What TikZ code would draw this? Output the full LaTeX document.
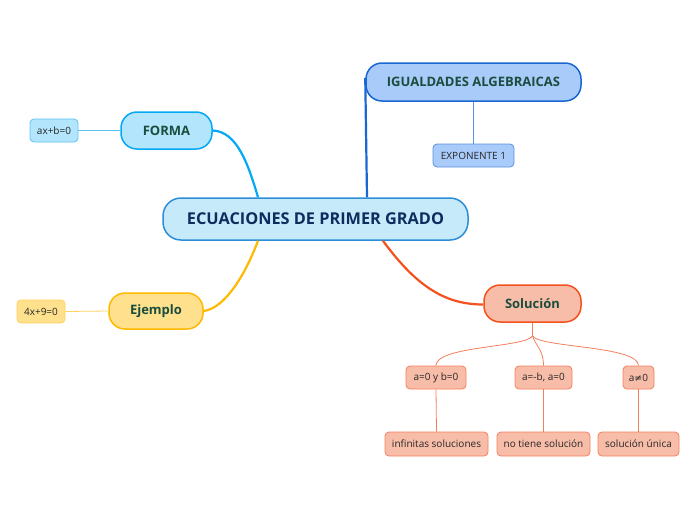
\documentclass[tikz,border=0pt]{standalone}
\usepackage{fontspec}
\setmainfont{Open Sans}
\newfontfamily\symfont{DejaVu Sans}
\usetikzlibrary{calc}
\definecolor{cfill}{HTML}{C7EAFB}
\definecolor{cdraw}{HTML}{2C8ED6}
\definecolor{ctext}{HTML}{0D2D5E}
\definecolor{gtext}{HTML}{1B4D3E}
\definecolor{ffill}{HTML}{B3E5FC}
\definecolor{fdraw}{HTML}{03A9F4}
\definecolor{fsub}{HTML}{5CC4F2}
\definecolor{efill}{HTML}{FFE08C}
\definecolor{edraw}{HTML}{FFB900}
\definecolor{esub}{HTML}{FFD25C}
\definecolor{ifill}{HTML}{A9CBFA}
\definecolor{idraw}{HTML}{1967D2}
\definecolor{isub}{HTML}{5A92DE}
\definecolor{sfill}{HTML}{F8BDA9}
\definecolor{sdraw}{HTML}{F4511E}
\definecolor{ssub}{HTML}{F3805C}
\tikzset{
  mainbox/.style={draw=#1, line width=1.5pt, rounded corners=16pt, inner sep=0pt, text=gtext, font=\fontsize{13}{15}\selectfont\bfseries},
  subbox/.style={draw=#1, line width=0.8pt, rounded corners=4pt, inner sep=0pt, text=black!85, font=\fontsize{10}{12}\selectfont},
  thick link/.style={line width=2.2pt, draw=#1},
  thin link/.style={line width=0.8pt, draw=#1},
}
\begin{document}
\begin{tikzpicture}[x=1pt,y=-1pt]
\useasboundingbox (0,0) rectangle (696,520);
% central
\node[mainbox=cdraw, fill=cfill, minimum width=305pt, minimum height=42pt, rounded corners=18pt, text=ctext, font=\fontsize{16.3}{19}\selectfont\bfseries] (c) at (315.5,219) {ECUACIONES DE PRIMER GRADO};
% branches
\node[mainbox=fdraw, fill=ffill, minimum width=91pt, minimum height=37pt] (forma) at (166.5,130.5) {FORMA};
\node[subbox=fsub, fill=ffill, minimum width=48pt, minimum height=23pt] (ax) at (54,130.5) {ax+b=0};
\node[mainbox=edraw, fill=efill, minimum width=94pt, minimum height=36pt] (ej) at (156,311) {Ejemplo};
\node[subbox=esub, fill=efill, minimum width=48pt, minimum height=23pt] (ex) at (41,311.5) {4x+9=0};
\node[mainbox=idraw, fill=ifill, minimum width=215pt, minimum height=38pt] (ig) at (473.5,82) {IGUALDADES ALGEBRAICAS};
\node[subbox=isub, fill=ifill, minimum width=81pt, minimum height=23pt] (exp) at (473.5,155.5) {EXPONENTE 1};
\node[mainbox=sdraw, fill=sfill, minimum width=97pt, minimum height=37pt] (sol) at (532.5,303.5) {Solución};
\node[subbox=ssub, fill=sfill, minimum width=60pt, minimum height=23pt] (s1) at (436,377.5) {a=0 y b=0};
\node[subbox=ssub, fill=sfill, minimum width=57pt, minimum height=23pt] (s2) at (543.5,377.5) {a=-b, a=0};
\node[subbox=ssub, fill=sfill, minimum width=31pt, minimum height=23pt] (s3) at (638.5,377.5) {a{\symfont\fontsize{9.5}{11}\selectfont ≠}0};
\node[subbox=ssub, fill=sfill, minimum width=103pt, minimum height=24pt] (t1) at (436.5,444) {infinitas soluciones};
\node[subbox=ssub, fill=sfill, minimum width=93pt, minimum height=24pt] (t2) at (543.5,444) {no tiene solución};
\node[subbox=ssub, fill=sfill, minimum width=81pt, minimum height=24pt] (t3) at (638.5,444) {solución única};
\coordinate (solfork) at ($(sol.south)+(0,13)$);
% connectors
\draw[thick link=fdraw] (forma.east) .. controls +(24,1) and +(-10,-34) .. ([xshift=-57.5pt]c.north);
\draw[thick link=edraw] (ej.east) .. controls +(22,-3) and +(-12,32) .. ([xshift=-57.5pt]c.south);
\draw[thick link=idraw] ([xshift=51.5pt]c.north) -- ([yshift=4pt]ig.west);
\draw[thick link=sdraw] ([xshift=67.5pt]c.south) .. controls +(35,48) and +(-36,0) .. ([yshift=-1pt]sol.west);
\draw[thin link=fsub] (forma.west) -- (ax.east);
\draw[thin link=esub] (ej.west) -- (ex.east);
\draw[thin link=isub] (ig.south) -- (exp.north);
\draw[thin link=ssub] (sol.south) -- (solfork);
\draw[thin link=ssub] (solfork) .. controls +(-6,12) and +(0,-20) .. (s1.north);
\draw[thin link=ssub] (solfork) .. controls +(3,10) and +(0,-16) .. (s2.north);
\draw[thin link=ssub] (solfork) .. controls +(6,12) and +(0,-20) .. (s3.north);
\draw[thin link=ssub] (s1.south) -- (t1.north);
\draw[thin link=ssub] (s2.south) -- (t2.north);
\draw[thin link=ssub] (s3.south) -- (t3.north);
\end{tikzpicture}
\end{document}
